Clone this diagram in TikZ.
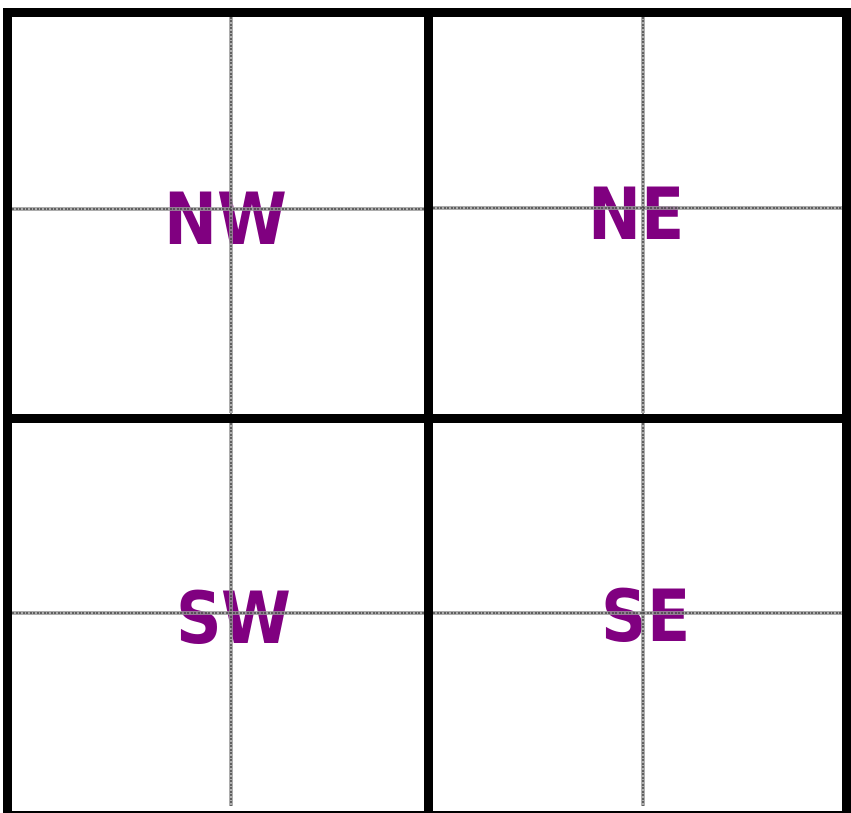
\documentclass[tikz,border=0pt]{standalone}
\usepackage{fontspec}
\newfontfamily\labelfont{DejaVu Sans}
\definecolor{quadpurple}{RGB}{128,0,128}
\begin{document}
\begin{tikzpicture}[x=1pt,y=-1pt,
  frame/.style={line width=9pt,black},
  crossline/.style={line width=4pt,black!40,opacity=0.8},
  crosscore/.style={line width=1.5pt,black!75,opacity=0.7,dash pattern=on 2pt off 1.5pt},
  quadlabel/.style={font=\labelfont\bfseries\fontsize{72}{72}\selectfont,text=quadpurple,inner sep=0pt,anchor=base,xscale=0.88}]
\useasboundingbox (0,0) rectangle (851,813);
% labels
\node[quadlabel] (nw) at (226,244) {NW};
\node[quadlabel] (ne) at (637,240) {NE};
\node[quadlabel] (sw) at (234,643) {SW};
\node[quadlabel] (se) at (646,641) {SE};
% crosshairs
\foreach \s in {crossline,crosscore}{
\draw[\s] (231,17) -- (231,413);
\draw[\s] (12,209) -- (424,209);
\draw[\s] (643,17) -- (643,413);
\draw[\s] (433,208) -- (842,208);
\draw[\s] (231,423) -- (231,806);
\draw[\s] (12,613) -- (424,613);
\draw[\s] (643,423) -- (643,806);
\draw[\s] (433,613) -- (842,613);
}
% frame
\draw[frame] (7.5,13) rectangle (846.5,815);
\draw[frame] (428.5,13) -- (428.5,815);
\draw[frame] (7.5,418) -- (846.5,418);
\end{tikzpicture}
\end{document}
